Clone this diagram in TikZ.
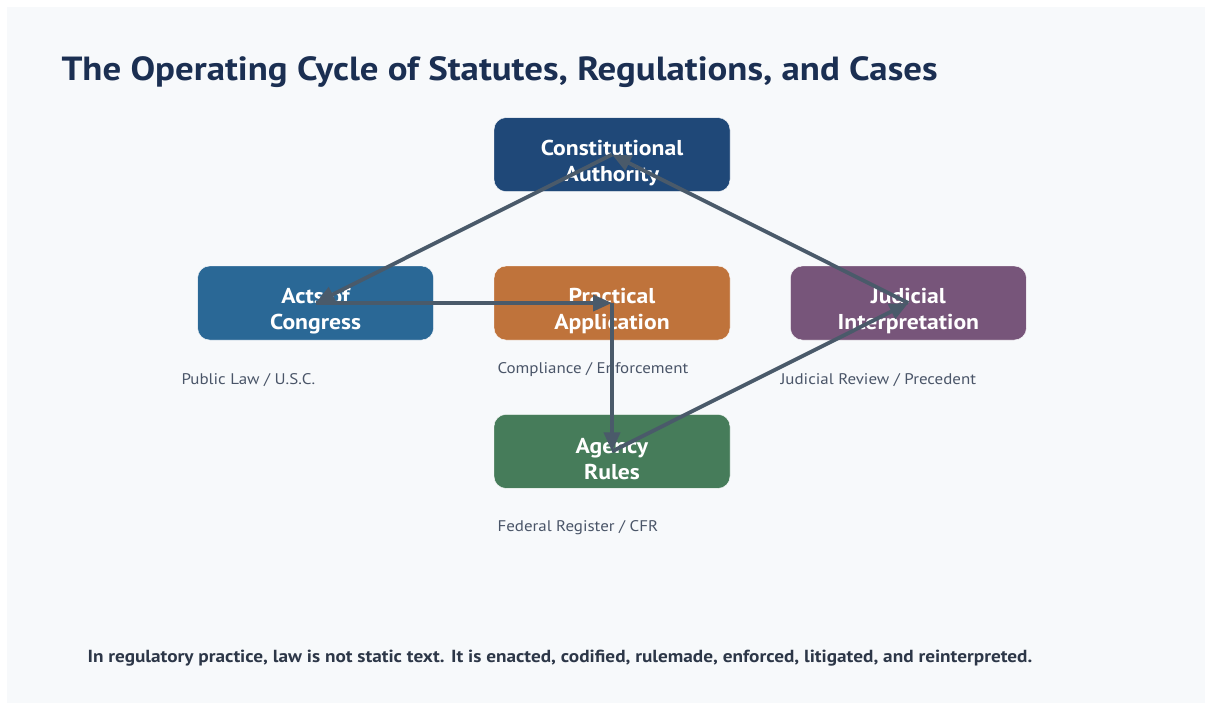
\documentclass[tikz,border=0pt]{standalone}
\usepackage{fontspec}
\setmainfont[FakeStretch=1.1]{PT Sans}
\usetikzlibrary{arrows.meta, positioning}

\definecolor{bgpanel}{HTML}{F7F9FB}
\definecolor{titleblue}{HTML}{1B2F52}
\definecolor{constblue}{HTML}{1F4878}
\definecolor{actsblue}{HTML}{2A6896}
\definecolor{pracorange}{HTML}{BF733B}
\definecolor{judicpurple}{HTML}{77557A}
\definecolor{agencygreen}{HTML}{467C5A}
\definecolor{arrowslate}{HTML}{4A5A6A}
\definecolor{notegray}{HTML}{4A5568}
\definecolor{footgray}{HTML}{2D3748}

\begin{document}
\begin{tikzpicture}[
    x=1pt, y=-1pt,
    >={Triangle[length=19pt, width=16pt]}, % solid triangle tips
    box/.style={draw=white, thin, rounded corners=12pt, minimum width=236pt,
        minimum height=74pt}, % stage boxes
    boxtext/.style={text=white, align=center, yshift=-8pt,
        font=\fontsize{21.5}{26}\selectfont\bfseries}, % text in the boxes
    note/.style={anchor=west, text=notegray, font=\fontsize{15.4}{19}\selectfont}, % captions
    flow/.style={->, arrowslate, line width=3.8pt} % cycle arrows
]
    % 1. canvas and panel
    \useasboundingbox (0,0) rectangle (1207,705);
    \fill[white] (0,0) rectangle (1207,705);
    \fill[bgpanel] (7,7) rectangle (1205,703);

    % 2. title
    \node[anchor=west, text=titleblue, font=\fontsize{33.5}{40}\selectfont\bfseries]
        (title) at (58,72) {The Operating Cycle of Statutes, Regulations, and Cases};

    % 3. stage boxes
    \node[box, fill=pracorange, label={[boxtext]center:{Practical\\Application}}] (prac) at (612,303) {};
    \node[box, fill=constblue, above=74pt of prac,
        label={[boxtext]center:{Constitutional\\Authority}}] (const) {};
    \node[box, fill=actsblue, left=60pt of prac,
        label={[boxtext]center:{Acts of\\Congress}}] (acts) {};
    \node[box, fill=judicpurple, right=60pt of prac,
        label={[boxtext]center:{Judicial\\Interpretation}}] (judic) {};
    \node[box, fill=agencygreen, below=74pt of prac,
        label={[boxtext]center:{Agency\\Rules}}] (agency) {};

    % 4. captions under the boxes
    \node[note] (actsnote) at (178,380) {Public Law / U.S.C.};
    \node[note] (pracnote) at (494,370) {Compliance / Enforcement};
    \node[note] (judicnote) at (777,380) {Judicial Review / Precedent};
    \node[note] (agencynote) at (494,528) {Federal Register / CFR};

    % 5. the cycle, centre to centre
    \draw[flow] (const.center) -- (acts.center);
    \draw[flow] (acts.center) -- (prac.center);
    \draw[flow] (prac.center) -- (agency.center);
    \draw[flow] (agency.center) -- (judic.center);
    \draw[flow] (judic.center) -- (const.center);

    % 6. footer line
    \node[anchor=west, text=footgray, font=\fontsize{17.5}{20}\selectfont\bfseries]
        (footer) at (84,658) {In regulatory practice, law is not static text. It is enacted, codified, rulemade, enforced, litigated, and reinterpreted.};
\end{tikzpicture}
\end{document}
